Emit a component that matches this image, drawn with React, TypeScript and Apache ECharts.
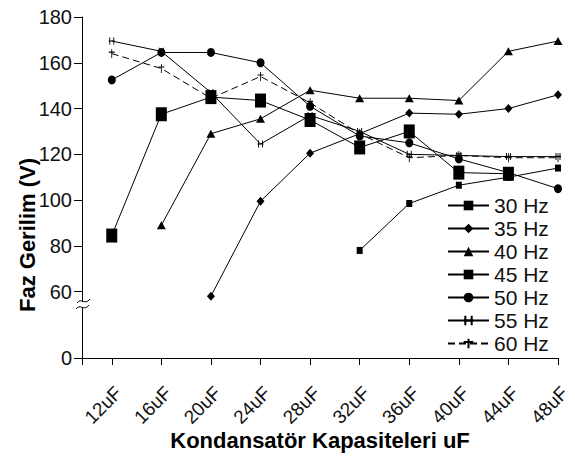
import React, { useEffect, useRef } from 'react';
import * as echarts from 'echarts';

const categories = ['12uF', '16uF', '20uF', '24uF', '28uF', '32uF', '36uF', '40uF', '44uF', '48uF'];
const seriesNames = ['30 Hz', '35 Hz', '40 Hz', '45 Hz', '50 Hz', '55 Hz', '60 Hz'];
const v30 = [null, null, null, null, null, 78, 98.5, 106.5, 110, 114];
const v35 = [null, null, 58, 99.5, 120.5, 129, 138, 137.5, 140, 146];
const v40 = [null, 89, 129, 135.5, 148, 144.5, 144.5, 143.5, 165, 169.5];
const v45 = [84.5, 137.5, 145, 143.5, 135, 123, 130, 112, 111.5, null];
const v50 = [152.5, 164.5, 164.5, 160, 141, 128, 125, 118, 112, 105];
const v55 = [169.5, 165, 147, 124.5, 137, 130, 120, 119.5, 119, 119];
const v60 = [164, 157.5, 144.5, 154, 142.5, 129, 118.5, 119.5, 118.5, 118.5];
const yTickValues = [60, 80, 100, 120, 140, 160, 180];
const yZeroLabel = '0';
const yAxisTitle = 'Faz Gerilim (V)';
const xAxisTitle = 'Kondansatör Kapasiteleri uF';

// axis break: the "0" tick is placed at this (compressed) position
const BROKEN_ZERO = 31;
const X_MIN = -0.6;

const FONT = '"Liberation Sans", Arial, sans-serif';

const allValues = [v30, v35, v40, v45, v50, v55, v60];
const symbols: any[] = [
  { symbol: 'rect', size: [6, 7] },
  { symbol: 'diamond', size: [8, 9] },
  { symbol: 'triangle', size: [9, 8] },
  { symbol: 'rect', size: [11, 14] },
  { symbol: 'circle', size: [8, 9] },
  { symbol: 'path://M1,0L1,10M5,0L5,10M0,5L6,5', size: [6, 7] },
  { symbol: 'path://M3,0L3,9M0,3L6,3', size: [6, 9] },
];

export default function App() {
  const ref = useRef<HTMLDivElement>(null);
  useEffect(() => {
    if (!ref.current) return;
    const chart = echarts.init(ref.current, null, { renderer: 'svg' });
    const series: any[] = seriesNames.map((name, si) => ({
      name,
      type: 'line',
      data: categories.map((_, i) => [i, allValues[si][i]]),
      symbol: symbols[si].symbol,
      symbolSize: symbols[si].size,
      showSymbol: true,
      connectNulls: false,
      lineStyle: { color: '#000', width: 1, type: si === 6 ? [7, 4] : 'solid' },
      itemStyle: { color: '#000', borderColor: '#000', borderWidth: si >= 5 ? 1 : 0 },
      emphasis: { disabled: true },
    }));
    const yLabelValues = [BROKEN_ZERO, ...yTickValues];
    const xTickValues = [X_MIN, ...categories.map((_, i) => i)];
    chart.setOption({
      animation: false,
      backgroundColor: '#fff',
      grid: { left: 82, right: 17, top: 17, bottom: 98, containLabel: false, outerBoundsMode: 'none' },
      xAxis: {
        type: 'value',
        min: X_MIN,
        max: categories.length - 1,
        name: xAxisTitle,
        nameLocation: 'middle',
        nameGap: 71,
        nameMoveOverlap: false,
        nameTextStyle: { fontFamily: FONT, fontWeight: 'bold', fontSize: 22, color: '#000' },
        axisLine: { show: true, onZero: false, lineStyle: { color: '#000', width: 1 } },
        axisTick: {
          show: true,
          length: 7,
          lineStyle: { color: '#000', width: 1 },
          customValues: xTickValues,
        },
        axisLabel: {
          show: true,
          rotate: 45,
          margin: 25,
          align: 'right',
          verticalAlign: 'top',
          fontFamily: FONT,
          fontSize: 19,
          color: '#111',
          customValues: categories.map((_, i) => i),
          formatter: (v: number) => categories[Math.round(v)] ?? '',
        },
        splitLine: { show: false },
      },
      yAxis: {
        type: 'value',
        min: BROKEN_ZERO,
        max: 180,
        axisLine: { show: true, onZero: false, lineStyle: { color: '#000', width: 1 } },
        axisTick: { show: true, length: 8, lineStyle: { color: '#000', width: 1 }, customValues: yLabelValues },
        axisLabel: {
          show: true,
          margin: 10,
          fontFamily: FONT,
          fontSize: 20,
          color: '#111',
          customValues: yLabelValues,
          formatter: (v: number) => (v === BROKEN_ZERO ? yZeroLabel : String(v)),
        },
        splitLine: { show: false },
      },
      legend: {
        orient: 'vertical',
        left: 442,
        top: 190,
        itemWidth: 41,
        itemHeight: 12,
        itemGap: 2,
        textStyle: { fontFamily: FONT, fontSize: 21, color: '#111' },
        data: seriesNames,
      },
      graphic: [
        {
          type: 'text',
          x: 27,
          y: 235,
          rotation: Math.PI / 2,
          style: {
            text: yAxisTitle,
            font: `bold 22px ${FONT}`,
            fill: '#000',
            textAlign: 'center',
            textVerticalAlign: 'middle',
          },
        },
        { type: 'rect', shape: { x: 79, y: 302, width: 7, height: 5 }, style: { fill: '#fff' }, z: 100 },
        {
          type: 'bezierCurve',
          z: 101,
          shape: { x1: 77, y1: 303, cpx1: 81, cpy1: 297, cpx2: 85, cpy2: 306, x2: 90, y2: 299 },
          style: { stroke: '#000', fill: 'none', lineWidth: 1 },
        },
        {
          type: 'bezierCurve',
          z: 101,
          shape: { x1: 76, y1: 309, cpx1: 80, cpy1: 303, cpx2: 84, cpy2: 312, x2: 89, y2: 305 },
          style: { stroke: '#000', fill: 'none', lineWidth: 1 },
        },
      ],
      series,
    });
    return () => chart.dispose();
  }, []);
  return <div ref={ref} style={{ position: 'fixed', left: 0, top: 0, width: 575, height: 456 }} />;
}
